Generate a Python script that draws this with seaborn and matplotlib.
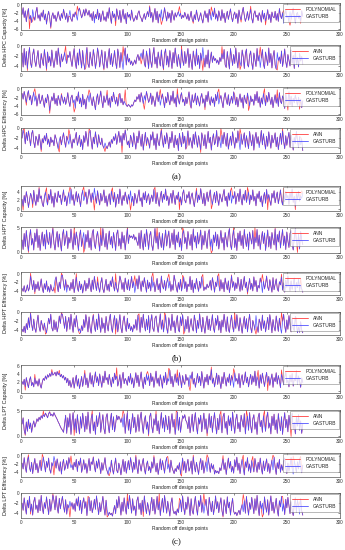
import numpy as np
import pandas as pd
import matplotlib
matplotlib.use("Agg")
import matplotlib.pyplot as plt
import seaborn as sns

# ---------------- data (read/estimated from the reference) ----------------
x_ticks = [0, 50, 100, 150, 200, 250, 300]
x_label = "Random off design points"
group_labels = ["(a)", "(b)", "(c)"]
y_labels = ["Delta HPC Capacity [%]", "Delta HPC Efficiency [%]",
            "Delta HPT Capacity [%]", "Delta HPT Efficiency [%]",
            "Delta LPT Capacity [%]", "Delta LPT Efficiency [%]"]
model_names = ["POLYNOMIAL", "ANN"]
truth_name = "GASTURB"

hpc_cap_poly_gt = [
-2.3,-0.6,-3.1,-1.4,-4.2,-2.0,-0.8,-3.5,-2.6,-4.4,-1.1,-2.9,-3.8,-1.7,-0.5,-3.3,-2.4,-4.0,-1.9,-3.0,
-1.2,-3.7,-2.2,-4.8,-2.7,-1.5,-3.2,-5.6,-2.8,-1.9,-3.4,-2.5,-4.1,-3.0,-1.6,-2.9,-3.9,-2.1,-3.3,-1.0,
-2.4,-3.6,-2.0,-4.3,-2.8,-1.3,-3.5,-4.1,-2.2,-3.0,-1.7,-2.6,-3.8,-1.4,-0.7,-1.9,-3.2,-2.4,-1.1,-2.7,
-0.9,-1.8,-2.5,-1.3,-3.0,-2.1,-3.9,-1.6,-4.5,-2.3,-3.4,-1.0,-3.7,-2.0,-4.2,-2.6,-1.4,-3.8,-2.9,-4.1,
-1.7,-3.3,-0.6,-2.8,-4.6,-1.5,-3.1,-2.2,-4.0,-0.9,-2.5,-3.6,-1.3,-4.4,-2.7,-1.0,-3.5,-2.1,-4.7,-1.8,
-3.0,-2.3,-3.8,-1.2,-2.9,-4.1,-3.4,-2.6,-3.7,-2.0,-1.4,-2.8,-3.3,-4.2,-3.0,-2.1,-3.6,-2.5,-1.6,-2.9,
-0.4,-3.2,-1.8,-4.3,-2.4,-0.8,-3.7,-1.5,-4.5,-2.2,-3.1,-1.1,-3.9,-2.7,-0.6,-2.4,-4.0,-1.7,-3.3,-2.0,
-4.4,-1.3,-2.6,-3.8,-1.9,-3.0,-2.3,-1.6,-2.8,-2.0,-3.4,-2.5,-3.1,-1.8,-2.7,-3.5,-2.2,-3.9,-2.9,-1.5,
-3.6,-4.2,-2.4,-3.7,-1.2,-2.8,-4.1,-3.0,-1.9,-3.4,-4.5,-2.6,-1.4,-3.2,-2.1,-4.3,-1.0,-2.7,-3.8,-1.6,
-2.9,-0.7,-3.5,-2.2,-4.0,-1.4,-2.6,-3.9,-1.1,-3.3,-2.0,-4.4,-2.8,-1.5,-3.6,-2.3,-0.9,-3.0,-4.2,-2.5,
-1.7,-3.4,-2.1,-4.6,-1.2,-2.9,-3.7,-1.8,-0.5,-2.6,-4.1,-3.1,-1.6,-3.8,-2.4,-1.0,-3.3,-4.5,-2.2,-1.4,
-3.0,-2.5,-3.9,-1.9,-2.7,-4.3,-1.3,-3.5,-2.0,-4.0,-2.8,-1.1,-3.6,-2.3,-4.4,-1.7,-2.9,-3.2,-1.5,-3.8,
-2.1,-4.1,-0.8,-2.6,-3.4,-1.9,-4.6,-2.4,-1.2,-3.1,-2.7,-4.2,-1.6,-3.5,-2.0,-0.7,-3.0,-4.5,-2.3,-1.8,
-3.3,-2.6,-4.0,-1.4,-2.8]
hpc_cap_poly_diff = {7: -6.0, 10: -3.9, 27: -5.9, 45: -2.9, 52: -0.2, 68: -3.6, 88: -5.2, 104: -3.2,
                     120: -0.1, 131: -4.9, 148: -0.3, 161: -4.6, 178: -0.4, 190: -2.0, 206: -4.3,
                     215: -0.2, 229: -5.0, 246: -1.3, 252: -5.1, 262: -4.6}

hpc_cap_ann_gt = [
-1.5,-4.3,-0.6,-3.9,-1.2,-4.6,-2.0,-0.4,-3.5,-4.4,-1.8,-0.7,-3.1,-4.2,-2.4,-1.0,-3.7,-4.5,-1.6,-2.9,
-4.0,-0.8,-2.6,-4.7,-1.3,-3.4,-2.2,-4.1,-0.9,-3.0,-4.4,-2.7,-1.1,-3.8,-0.5,-2.3,-4.3,-1.7,-3.2,-2.5,
-1.4,-2.8,-3.6,-1.9,-2.4,-1.2,-3.0,-4.2,-2.1,-0.6,-3.3,-4.6,-1.5,-3.9,-0.7,-2.6,-4.5,-1.0,-3.5,-4.8,
-2.0,-0.4,-3.7,-4.4,-1.3,-2.9,-4.1,-0.8,-2.2,-4.6,-3.1,-0.5,-1.8,-4.3,-2.5,-0.9,-3.6,-4.7,-1.2,-3.0,
-4.5,-2.3,-0.6,-3.8,-1.6,-4.2,-2.8,-1.0,-3.4,-4.6,-0.7,-2.1,-4.4,-1.4,-3.2,-4.8,-2.0,-0.5,-3.9,-1.7,
-3.3,-2.6,-3.8,-3.1,-4.0,-3.5,-2.9,-3.7,-2.4,-1.8,-3.0,-2.2,-1.5,-2.7,-0.8,-3.6,-4.3,-1.1,-2.5,-4.6,
-0.6,-3.2,-4.4,-1.9,-0.4,-3.7,-2.3,-4.5,-1.3,-2.8,-4.1,-0.9,-3.4,-4.7,-1.6,-0.7,-3.9,-2.1,-4.3,-1.0,
-2.7,-4.6,-1.4,-3.5,-0.5,-2.4,-4.2,-1.8,-3.1,-4.5,-0.8,-2.9,-4.0,-1.2,-3.6,-2.2,-0.6,-4.4,-1.7,-3.3,
-4.8,-1.1,-2.6,-4.1,-0.7,-3.8,-2.0,-4.6,-1.5,-3.0,-0.4,-2.5,-4.3,-1.9,-3.7,-0.9,-4.5,-2.8,-1.3,-3.4,
-2.1,-3.0,-2.6,-3.5,-2.9,-3.8,-2.4,-3.2,-1.6,-2.7,-0.8,-3.9,-4.4,-1.2,-3.1,-4.7,-0.6,-2.3,-4.0,-1.8,
-3.6,-0.5,-2.9,-4.5,-1.4,-3.3,-4.1,-0.9,-2.2,-4.6,-1.7,-0.7,-3.8,-4.3,-2.0,-1.1,-3.5,-4.8,-1.5,-2.8,
-4.2,-0.6,-3.1,-1.9,-4.4,-2.5,-0.8,-3.7,-4.6,-1.3,-2.6,-4.0,-0.5,-3.4,-1.6,-4.5,-2.2,-1.0,-3.9,-4.7,
-1.4,-3.0,-2.3,-3.6,-1.1,-4.2,-2.7,-0.7,-3.3,-4.4,-1.8,-2.9,-4.1,-0.9,-3.5,-2.0,-4.6,-1.2,-3.8,-2.4,
-4.3,-1.6,-3.1,-2.2,-3.7]
hpc_cap_ann_diff = {5: -5.0, 23: -5.0, 41: -0.1, 60: -4.4, 77: -4.9, 95: -0.2, 112: -3.7, 133: -4.9,
                    150: -0.1, 170: -5.0, 188: -0.2, 205: -4.8, 224: -0.3, 240: -4.9, 258: -3.6}

hpc_eff_poly_gt = [
-1.0,-2.4,-0.5,-1.8,-3.2,-1.3,-0.3,-2.6,-1.5,-3.8,-2.0,-0.7,-2.9,-1.6,-4.1,-2.3,-1.1,-3.5,-2.7,-1.4,
-3.0,-4.4,-2.1,-3.3,-1.2,-2.5,-5.2,-3.1,-1.8,-2.8,-0.9,-3.6,-2.2,-4.0,-1.5,-2.7,-3.9,-1.3,-2.4,-3.4,
-1.9,-3.7,-2.6,-0.8,-3.0,-4.2,-2.0,-1.4,-3.3,-2.5,-4.6,-1.7,-2.9,-0.6,-3.5,-2.1,-4.3,-1.2,-3.8,-2.4,
-4.8,-2.2,-1.5,-3.1,-0.9,-2.6,-4.0,-1.8,-3.4,-5.0,-2.3,-1.1,-3.7,-2.0,-0.4,-2.8,-4.5,-1.6,-3.2,-2.5,
-1.3,-3.9,-2.1,-4.4,-1.7,-3.0,-0.7,-2.4,-3.6,-1.9,-4.1,-2.7,-1.0,-3.3,-2.2,-3.8,-2.9,-3.5,-3.9,-4.2,
-3.7,-4.0,-4.4,-3.8,-4.1,-3.3,-2.6,-3.0,-1.8,-2.4,-1.2,-3.1,-0.8,-2.0,-3.5,-1.5,-2.7,-0.5,-1.9,-3.2,
-2.5,-0.9,-3.7,-1.6,-2.8,-4.2,-2.1,-0.6,-3.0,-1.4,-3.9,-2.3,-1.1,-2.7,-4.5,-1.8,-3.3,-0.7,-2.6,-3.8,
-1.5,-2.9,-0.4,-3.4,-2.0,-4.3,-1.2,-2.5,-3.6,-1.7,-0.8,-3.1,-2.4,-4.0,-1.9,-3.5,-2.2,-0.6,-2.8,-4.6,
-1.3,-3.2,-2.6,-0.9,-3.8,-1.6,-2.9,-4.1,-2.0,-1.0,-3.4,-2.3,-4.4,-1.4,-3.0,-0.5,-2.7,-3.9,-1.8,-3.3,
-2.1,-4.2,-1.2,-2.8,-0.7,-3.6,-2.4,-1.5,-3.1,-4.5,-2.0,-0.8,-2.6,-3.7,-1.3,-4.0,-2.9,-1.7,-3.4,-0.6,
-2.3,-3.8,-1.9,-4.3,-2.5,-1.1,-3.2,-2.0,-4.6,-1.4,-2.7,-3.5,-0.9,-2.2,-4.1,-1.6,-3.0,-2.4,-3.9,-1.2,
-2.8,-0.5,-3.3,-1.8,-4.4,-2.1,-3.6,-1.0,-2.6,-4.0,-1.5,-3.1,-0.7,-2.4,-3.7,-1.9,-4.5,-2.7,-1.3,-3.4,
-2.0,-4.2,-0.8,-2.9,-3.5,-1.6,-2.3,-4.7,-1.1,-3.0,-2.5,-0.6,-3.8,-1.7,-4.1,-2.2,-3.3,-1.4,-2.6,-3.9,
-1.9,-3.2,-2.4,-4.5,-2.8]
hpc_eff_poly_diff = {4: -3.9, 12: 0.2, 26: -5.9, 37: -1.0, 49: -5.6, 63: -0.1, 80: -0.2, 91: -1.2,
                     97: -0.1, 115: -4.9, 130: 0.0, 146: 0.2, 158: -3.8, 172: -5.0, 185: 0.1,
                     200: -1.3, 213: -5.2, 228: 0.2, 240: -0.1, 250: -5.1, 261: -4.9}

hpc_eff_ann_gt = [
-2.0,-0.3,-1.4,-3.2,-0.8,-2.5,-0.5,-1.9,-3.6,-1.1,-0.4,-2.8,-4.0,-1.6,-2.3,-3.5,-1.2,-2.7,-4.4,-2.1,
-3.0,-1.5,-2.6,-1.0,-3.3,-2.2,-3.8,-1.8,-2.9,-2.4,-3.6,-1.3,-2.1,-3.1,-4.2,-2.5,-1.7,-3.4,-2.0,-0.9,
-2.7,-3.9,-1.6,-2.4,-3.3,-1.2,-2.8,-4.1,-2.2,-3.0,-1.9,-0.8,-3.5,-2.6,-1.4,-3.8,-2.3,-4.4,-1.5,-2.9,
-0.6,-2.1,-3.7,-1.0,-0.4,-2.6,-4.3,-1.8,-3.2,-0.7,-2.4,-3.9,-1.3,-2.8,-3.4,-2.0,-3.6,-4.1,-3.0,-3.7,
-4.2,-3.5,-2.8,-3.9,-2.3,-3.1,-1.7,-2.5,-1.1,-3.3,-2.0,-0.6,-2.9,-1.5,-3.6,-1.0,-2.4,-0.3,-1.8,-3.4,
-2.6,-4.0,-1.4,-2.2,-3.8,-0.9,-2.7,-4.3,-1.6,-3.0,-0.5,-2.1,-3.7,-1.2,-4.5,-2.5,-0.8,-3.3,-1.9,-2.8,
-4.1,-1.3,-2.4,-0.7,-3.5,-2.0,-4.4,-1.1,-2.9,-3.6,-1.7,-0.4,-2.6,-3.9,-1.5,-3.2,-0.9,-2.3,-4.2,-1.8,
-3.0,-0.6,-2.7,-4.0,-1.4,-3.4,-2.1,-4.6,-1.0,-2.5,-3.8,-0.8,-3.1,-1.6,-4.3,-2.2,-0.5,-3.5,-1.9,-2.8,
-4.1,-1.2,-3.3,-0.7,-2.4,-3.9,-1.5,-2.9,-4.4,-0.9,-2.0,-3.6,-1.3,-4.2,-2.6,-0.6,-3.0,-1.8,-4.5,-2.3,
-1.1,-3.4,-2.7,-0.4,-3.8,-1.7,-2.5,-4.0,-1.4,-3.2,-0.8,-2.2,-3.7,-1.0,-4.3,-2.8,-1.6,-3.5,-0.7,-2.4,
-4.1,-1.9,-3.0,-0.5,-2.6,-4.4,-1.2,-3.3,-2.1,-0.9,-3.9,-1.5,-2.8,-4.2,-0.6,-2.3,-3.6,-1.3,-4.5,-2.0,
-0.8,-3.1,-1.7,-4.0,-2.5,-0.4,-3.4,-1.1,-2.9,-4.3,-1.6,-3.7,-0.7,-2.4,-4.1,-1.4,-3.0,-2.2,-0.9,-3.8,
-1.8,-4.4,-2.6,-1.0,-3.3,-0.5,-2.7,-4.2,-1.5,-3.5,-2.0,-0.8,-3.9,-1.3,-2.8,-4.5,-1.9,-3.1,-0.6,-2.5,
-4.0,-1.7,-3.4,-2.3,-4.6]
hpc_eff_ann_diff = {2: 0.0, 18: -4.8, 35: -4.9, 44: -0.2, 63: -0.1, 78: -4.8, 94: -5.0, 117: -3.6,
                    131: 0.0, 155: -3.8, 168: -5.0, 187: 0.0, 205: -0.1, 223: -3.4, 245: 0.0, 262: -1.8}

hpt_cap_poly_gt = [
2.2,0.6,3.1,1.4,4.0,2.5,0.3,1.9,3.6,2.8,1.1,4.3,2.0,0.8,3.3,1.6,4.7,2.4,3.0,1.2,
0.5,2.7,3.9,1.8,0.9,3.4,2.1,4.5,1.3,2.9,0.4,3.7,2.3,1.5,4.1,2.6,3.2,1.0,2.8,4.4,
1.7,3.0,0.7,2.5,3.8,1.2,4.6,2.0,3.3,0.8,2.4,4.0,1.6,3.5,2.2,0.5,3.1,4.3,1.9,2.7,
3.9,1.1,2.6,4.5,3.2,1.5,3.7,2.1,4.8,2.9,1.3,4.2,2.4,0.9,3.6,1.8,2.8,4.4,1.4,3.0,
0.6,2.3,3.5,1.0,4.1,2.7,1.6,3.8,0.4,2.2,3.4,1.2,4.6,2.5,0.8,3.1,1.9,3.9,2.6,1.1,
3.3,2.0,4.2,1.5,2.9,0.7,3.6,2.4,1.3,3.0,4.4,1.8,2.6,0.5,3.7,2.1,4.0,1.4,2.8,3.5,
1.0,2.3,3.2,1.7,4.5,2.6,1.2,3.8,2.0,0.6,2.9,4.1,1.5,3.4,2.2,4.6,1.9,3.0,0.8,2.5,
3.6,1.3,4.3,2.7,1.0,3.1,2.2,3.9,1.6,2.8,0.9,3.5,4.4,2.0,1.4,3.3,2.5,4.0,1.1,2.9,
3.7,1.8,0.5,2.6,4.2,1.5,3.2,2.1,4.7,2.8,1.2,3.6,0.7,2.4,3.9,1.7,3.0,4.4,2.3,1.0,
2.7,3.8,1.4,4.1,2.2,0.8,3.5,2.5,1.6,3.3,4.5,1.9,2.9,0.6,3.7,2.0,4.2,1.3,3.1,2.4,
4.0,1.1,2.8,3.6,1.7,4.6,2.3,0.9,3.4,2.0,4.3,1.5,2.6,3.9,1.0,3.2,2.1,4.4,1.8,2.9,
0.7,3.5,2.4,4.1,1.6,3.0,0.5,2.7,3.8,1.3,4.5,2.2,3.3,1.9,0.8,3.6,2.5,4.2,1.4,2.8,
3.9,1.2,2.6,4.4,2.0,0.9,3.4,1.7,4.0,2.5,3.1,1.0,3.7,2.3,4.6,1.5,2.9,0.6,3.5,2.1,
4.1,1.8,3.0,2.4,3.6]
hpt_cap_poly_diff = {1: -0.3, 10: 0.3, 16: 5.0, 23: 4.9, 45: 5.0, 58: 5.1, 68: -0.3, 85: 4.9,
                     102: -0.3, 125: 5.0, 148: -0.2, 164: 4.8, 178: 0.0, 197: 4.9, 212: 5.0,
                     231: -0.2, 246: 4.8, 257: -0.2, 263: 4.2}

hpt_cap_ann_gt = [
2.5,0.6,3.8,1.2,4.4,2.0,0.3,3.1,4.6,1.5,2.8,0.5,3.9,2.2,4.7,1.0,3.4,0.4,2.6,4.1,
1.3,3.6,0.7,4.5,2.3,1.6,4.0,0.9,3.2,4.8,1.8,0.5,2.9,4.2,1.1,3.7,2.0,0.3,3.5,4.6,
1.4,2.7,4.3,0.8,3.0,1.9,4.7,2.4,0.6,3.8,1.5,4.1,2.6,0.4,3.3,4.5,1.2,2.8,4.0,0.7,
3.6,2.1,4.4,1.0,2.9,0.5,3.9,4.6,1.7,0.8,3.1,4.2,2.3,0.3,3.5,1.4,4.8,2.7,1.1,3.8,
0.6,2.4,4.3,1.6,3.2,0.9,4.0,2.5,0.4,3.7,4.5,1.3,2.8,0.7,4.1,1.9,3.4,0.5,2.6,4.7,
1.8,3.5,3.0,3.3,2.8,3.6,2.5,3.1,2.2,1.4,3.9,0.8,4.4,2.0,0.5,3.7,1.2,4.6,2.9,0.6,
3.4,4.2,1.5,0.4,2.7,4.8,1.9,3.3,0.7,4.0,2.4,1.0,3.8,0.5,2.6,4.5,1.3,3.1,4.3,0.9,
2.2,3.9,1.6,4.6,0.6,3.5,2.0,4.1,1.1,2.8,0.4,3.7,4.4,1.8,3.0,0.7,4.2,2.5,1.4,3.6,
0.5,4.7,2.1,3.3,0.9,4.0,1.7,2.9,4.5,0.6,3.4,1.5,4.3,2.3,0.8,3.8,4.6,1.2,2.7,0.4,
3.5,2.0,4.1,1.3,3.6,0.7,2.4,4.4,1.9,3.0,0.5,4.0,2.6,1.1,3.7,4.8,1.6,0.6,3.2,4.5,
1.0,2.8,0.4,3.9,2.2,4.3,1.4,3.4,0.8,4.6,2.5,1.2,3.7,0.5,4.1,2.9,1.7,4.4,0.7,3.1,
2.0,4.6,1.3,3.5,0.6,2.7,4.2,1.8,3.9,0.4,2.4,4.5,1.1,3.2,0.8,4.0,2.6,1.5,4.7,0.5,
3.6,2.1,4.3,0.9,2.9,4.6,1.4,3.3,0.6,4.1,2.3,1.0,3.8,4.4,1.7,0.5,3.0,4.8,2.2,1.2,
3.7,0.7,4.2,2.5,1.6]
hpt_cap_ann_diff = {6: 0.0, 29: 5.0, 49: 4.9, 58: 0.0, 74: 5.0, 99: 4.9, 127: 5.0, 151: 5.0,
                    178: -0.1, 199: 5.0, 219: 5.0, 238: 4.9, 259: 0.0}

hpt_eff_poly_gt = [
-3.5,-4.2,-2.8,-4.4,-3.9,-2.6,-4.1,-3.3,-0.4,-2.1,-3.8,-1.5,-4.3,-2.4,-3.6,-1.8,-4.0,-2.9,-1.1,-3.4,
-4.5,-2.3,-3.7,-1.6,-4.2,-3.0,-4.4,-2.5,-3.8,-4.1,-3.2,-1.4,-0.6,-2.7,-4.3,-1.9,-3.5,-0.3,-0.2,-2.2,
-3.9,-1.3,-4.4,-2.6,-3.1,-4.0,-2.0,-3.6,-1.2,-4.5,-2.8,-0.7,-3.3,-4.2,-1.7,-3.8,-2.4,-4.6,-3.0,-1.5,
-4.1,-2.2,-3.5,-0.9,-2.9,-4.3,-1.4,-3.7,-0.5,-2.5,-4.0,-1.8,-3.2,-4.4,-2.1,-0.8,-3.6,-4.5,-2.7,-1.2,
-3.9,-2.4,-4.2,-1.6,-3.0,-0.6,-2.8,-4.1,-1.9,-3.4,-4.4,-2.3,-0.4,-1.5,-3.7,-2.0,-4.3,-0.9,-2.6,-3.8,
-1.3,-4.0,-2.5,-0.5,-3.3,-1.8,-4.5,-2.9,-1.1,-3.6,-0.3,-2.2,-4.2,-1.6,-3.1,-0.8,-2.7,-4.4,-1.4,-3.5,
-2.0,-4.1,-0.6,-3.2,-1.9,-4.3,-2.6,-1.0,-3.8,-2.3,-4.5,-0.4,-2.8,-3.6,-1.5,-4.0,-2.1,-0.9,-3.4,-1.7,
-4.2,-2.5,-3.9,-0.2,-1.6,-3.3,-4.4,-2.0,-3.7,-1.2,-4.1,-2.8,-0.7,-3.5,-1.8,-4.3,-2.4,-3.0,-0.5,-3.8,
-1.4,-4.5,-2.2,-3.6,-1.0,-2.9,-4.2,-1.7,-3.4,-0.6,-2.6,-4.0,-3.1,-3.7,-2.4,-3.3,-2.8,-1.5,-3.9,-0.8,
-2.3,-4.4,-1.9,-3.0,-0.4,-2.7,-4.1,-1.3,-3.6,-2.0,-4.3,-0.9,-2.5,-3.8,-1.6,-4.5,-2.9,-0.3,-3.2,-1.8,
-4.0,-2.1,-3.5,-0.7,-2.6,-4.2,-1.2,-3.9,-2.4,-0.5,-3.3,-1.9,-4.4,-2.8,-1.0,-3.7,-2.2,-4.1,-0.6,-3.0,
-1.5,-4.3,-2.7,-3.4,-0.9,-2.0,-4.5,-1.7,-3.6,-2.3,-0.4,-3.1,-4.0,-1.3,-2.9,-4.4,-0.8,-3.8,-2.5,-1.1,
-3.5,-4.2,-1.8,-2.6,-0.6,-3.9,-2.1,-4.4,-1.4,-3.2,-0.3,-2.8,-4.1,-1.6,-3.7,-2.4,-0.9,-4.3,-2.0,-3.3,
-1.2,-4.0,-2.7,-3.6,-4.4]
hpt_eff_poly_diff = {8: 0.3, 12: -4.8, 31: -4.6, 37: 0.3, 42: -3.2, 51: 0.2, 71: -0.6, 88: 0.2,
                     106: -0.3, 123: 0.4, 138: 0.1, 151: -0.2, 170: 0.0, 185: 0.2, 197: -0.1,
                     212: -4.9, 226: 0.0, 244: 0.1, 250: -0.5, 262: -0.9}

hpt_eff_ann_gt = [
-3.8,-4.4,-3.1,-4.6,-2.5,-3.9,-1.2,-3.4,-0.2,-2.7,-4.1,-1.5,-3.6,-4.5,-2.2,-0.6,-3.3,-4.3,-1.8,-2.9,
-4.0,-2.4,-3.7,-4.6,-3.0,-1.3,-2.6,-0.4,-3.5,-4.2,-1.7,-3.9,-2.1,-4.4,-3.2,-0.8,-2.5,-0.3,-0.5,-1.9,
-3.6,-0.9,-4.3,-2.3,-1.1,-3.8,-0.4,-2.8,-4.5,-1.4,-3.3,-0.7,-2.6,-4.2,-3.7,-4.6,-3.0,-4.1,-1.6,-3.4,
-0.5,-2.2,-4.4,-1.0,-3.5,-4.7,-2.0,-0.6,-3.1,-4.3,-1.5,-3.9,-0.3,-2.7,-4.5,-1.2,-3.6,-2.4,-4.6,-0.9,
-2.9,-4.2,-1.7,-0.4,-3.3,-4.5,-2.1,-0.7,-3.8,-1.4,-4.4,-2.6,-0.5,-3.5,-4.6,-1.9,-0.8,-3.0,-4.3,-1.3,
-3.7,-2.5,-4.1,-3.2,-4.4,-2.8,-3.6,-1.6,-4.0,-0.6,-2.3,-4.5,-1.1,-3.4,-0.4,-2.7,-4.2,-1.5,-3.9,-0.7,
-4.6,-2.0,-0.5,-3.6,-4.3,-1.3,-0.8,-3.1,-4.5,-2.4,-0.3,-3.8,-1.7,-4.4,-2.9,-0.6,-3.5,-4.7,-1.2,-2.6,
-4.1,-0.4,-3.3,-1.9,-4.6,-2.2,-0.7,-3.9,-4.4,-1.0,-3.0,-0.5,-2.5,-4.3,-1.6,-3.7,-0.9,-4.5,-2.8,-1.4,
-3.4,-4.2,-0.6,-2.1,-4.6,-1.8,-3.6,-0.3,-2.7,-4.4,-1.1,-3.2,-4.7,-2.3,-0.8,-3.9,-1.5,-4.1,-2.6,-0.5,
-3.5,-4.5,-1.3,-2.9,-0.7,-4.0,-2.0,-4.6,-1.7,-3.3,-0.4,-2.4,-4.3,-1.0,-3.8,-4.5,-2.2,-0.6,-3.1,-4.4,
-1.6,-3.6,-0.5,-2.8,-4.2,-1.2,-3.0,-4.7,-2.5,-0.9,-3.7,-1.4,-4.4,-2.1,-0.4,-3.4,-4.6,-1.8,-2.7,-4.0,
-0.7,-3.2,-4.5,-1.5,-2.4,-4.1,-0.6,-3.6,-1.9,-4.4,-2.8,-1.1,-3.9,-0.5,-2.3,-4.6,-1.6,-3.3,-4.2,-0.8,
-2.6,-4.3,-1.3,-3.5,-4.7,-2.0,-0.4,-3.0,-4.5,-1.7,-3.8,-0.7,-2.5,-4.4,-1.2,-3.6,-4.1,-0.9,-2.9,-4.6,
-3.3,-4.5,-2.1,-4.0,-4.6]
hpt_eff_ann_diff = {8: 0.0, 22: -4.9, 37: 0.0, 54: -4.8, 67: -0.4, 88: -4.9, 110: -0.3, 134: 0.0,
                    152: -4.9, 179: -0.5, 200: 0.0, 220: -4.9, 244: 0.0, 258: -1.3}

lpt_cap_poly_gt = [
2.2,1.5,2.8,1.0,3.2,1.8,0.7,2.6,3.4,1.2,2.0,0.9,3.1,1.6,2.4,1.1,2.9,1.4,0.6,2.1,
3.0,2.5,3.6,2.8,3.9,3.3,4.2,3.5,4.6,3.8,4.1,4.5,3.6,4.7,3.9,4.3,3.4,4.0,3.1,3.7,
2.6,3.3,1.9,3.0,1.2,2.5,0.8,1.7,3.2,0.6,2.4,3.8,1.1,2.9,0.5,1.8,3.5,1.0,2.7,4.2,
1.4,3.1,0.7,2.3,4.4,1.6,3.7,0.9,2.8,4.6,2.0,3.4,1.2,4.1,2.5,0.8,3.6,1.9,4.8,2.6,
3.2,1.5,4.0,2.3,0.9,3.3,1.8,4.3,2.7,3.6,1.1,2.2,3.9,0.6,2.9,4.5,1.7,3.0,2.4,1.3,
3.5,2.0,4.2,1.6,3.1,0.7,2.6,4.4,1.9,3.8,1.0,2.8,4.6,2.1,0.5,3.3,1.5,4.0,2.5,3.7,
1.2,4.3,2.2,3.4,0.8,2.7,4.8,1.8,3.1,1.1,3.9,2.4,0.6,3.6,2.0,4.5,1.4,3.0,2.3,5.0,
1.7,3.5,0.9,2.6,4.1,2.0,3.3,1.3,4.4,2.8,0.7,3.7,2.2,1.5,4.0,2.5,3.2,1.0,3.8,2.9,
4.6,1.6,3.0,0.8,2.4,4.2,1.9,3.5,1.2,4.7,2.7,0.6,3.3,2.1,4.0,1.4,3.6,2.6,5.2,1.8,
3.1,0.9,2.5,4.3,1.5,3.8,2.2,0.5,3.4,1.7,4.5,2.8,1.1,3.2,2.0,4.1,1.3,3.7,2.6,0.8,
4.4,2.3,3.0,1.6,4.2,0.7,2.9,3.9,1.4,2.5,4.6,1.9,3.3,0.9,2.7,4.0,1.5,3.6,2.1,4.8,
1.2,3.4,2.4,0.6,3.9,1.8,4.3,2.6,1.0,3.1,4.5,2.0,3.5,1.3,2.8,4.1,0.8,3.2,2.2,4.4,
1.6,3.7,2.5,0.7,4.0,2.9,1.4,3.3,4.6,1.9,2.6,0.9,3.8,2.1,4.2,1.1,3.0,2.4,4.5,1.5,
3.6,2.3,0.8,3.1,2.0]
lpt_cap_poly_diff = {3: 0.1, 12: 4.0, 28: 5.2, 35: 5.0, 59: 5.0, 89: 5.6, 118: 4.7, 138: 5.5,
                     146: 5.1, 158: 0.0, 178: 5.8, 199: 5.4, 222: 5.0, 231: 0.0, 244: 5.1, 258: 5.0}

lpt_cap_ann_gt = [
2.4,3.6,1.2,0.4,2.8,1.0,3.3,1.5,2.6,0.8,2.2,3.0,1.8,2.5,3.4,2.9,3.7,3.2,4.0,3.5,
4.2,3.8,4.5,4.1,3.6,4.4,4.7,4.0,4.3,3.9,4.6,4.1,3.7,3.3,2.8,2.4,1.9,1.5,1.2,0.8,
2.5,4.1,0.6,3.6,1.8,4.4,0.4,2.9,4.6,1.3,3.4,0.7,4.2,2.1,0.5,3.8,1.6,4.5,2.7,0.9,
3.9,1.4,4.7,2.3,0.6,3.5,4.3,1.1,2.8,0.4,4.0,1.9,3.3,4.6,0.8,2.6,4.2,1.5,0.5,3.7,
4.4,2.2,0.7,3.0,4.5,1.3,3.8,0.9,2.4,4.1,3.2,3.9,3.4,2.7,3.6,1.8,4.3,0.6,2.9,4.6,
1.2,3.3,0.5,2.5,4.4,1.7,3.7,0.8,2.0,4.2,1.0,3.5,4.7,2.3,0.6,3.1,4.0,1.4,2.8,0.4,
3.8,4.5,1.9,0.7,3.4,2.2,4.3,1.1,3.0,0.5,2.6,4.6,1.6,3.6,0.9,4.1,2.4,1.3,3.9,0.6,
2.9,4.4,1.8,3.3,0.4,2.1,4.7,1.2,3.7,0.8,2.5,4.0,3.5,4.2,3.1,2.7,1.5,3.8,0.7,2.3,
4.3,1.0,3.2,4.6,1.9,0.5,3.6,2.4,4.1,0.9,2.8,4.5,1.4,3.4,0.6,2.0,4.4,1.7,3.9,0.8,
3.0,4.6,2.2,0.5,3.5,1.3,4.2,2.6,0.7,3.8,4.5,1.6,2.9,0.4,4.0,2.1,3.6,1.1,4.7,2.4,
0.6,3.3,4.3,1.5,2.7,0.9,4.1,3.0,1.8,4.4,0.5,2.5,3.9,1.2,4.6,2.0,0.7,3.4,4.2,1.4,
2.8,0.4,3.7,4.5,1.9,3.1,0.8,4.0,2.3,1.0,3.6,4.7,1.6,2.6,0.5,3.9,2.1,4.3,1.3,3.2,
0.6,4.4,2.5,1.1,3.8,0.4,2.9,4.6,1.7,3.3,0.9,4.1,2.2,3.5,4.5,1.4,2.7,0.5,3.7,2.0,
4.2,1.2,3.0,0.6,2.4]
lpt_cap_ann_diff = {3: 0.2, 20: 4.9, 26: 4.8, 49: 0.2, 66: 5.0, 95: 5.0, 119: 0.1, 126: 4.9,
                    145: 4.9, 174: 0.1, 187: 4.9, 211: 5.0, 228: 5.0, 253: 0.0}

lpt_eff_poly_gt = [
-1.8,-3.2,-0.5,-2.6,-4.0,-1.2,-0.3,-2.9,-3.8,-1.6,-4.3,-2.2,-0.7,-3.4,-1.9,-4.1,-2.7,-1.1,-3.6,-2.3,
-0.4,-2.0,-3.9,-1.4,-2.8,-0.6,-3.3,-4.2,-1.7,-2.5,-0.2,-1.3,-3.0,-0.8,-2.4,-3.7,-1.5,-4.4,-2.1,-0.9,
-3.5,-2.6,-1.2,-3.1,-0.5,-1.8,-2.9,-2.2,-3.4,-1.6,-2.7,-0.9,-3.8,-1.4,-2.3,-0.6,-4.0,-2.8,-1.0,-3.3,
-1.9,-4.2,-2.5,-0.7,-3.6,-1.5,-2.1,-0.4,-2.6,-3.9,-1.3,-3.0,-0.8,-2.4,-4.3,-1.7,-3.5,-2.0,-0.5,-2.9,
-3.7,-4.5,-2.7,-3.9,-1.1,-3.2,-4.4,-2.3,-0.6,-3.5,-4.1,-1.8,-3.0,-4.6,-2.5,-0.9,-3.8,-1.4,-4.2,-2.6,
-1.2,-3.4,-0.5,-2.1,-4.0,-1.6,-3.3,-0.3,-2.8,-4.3,-1.0,-2.4,-3.7,-1.9,-0.7,-3.1,-4.4,-2.2,-1.3,-3.6,
-2.6,-4.1,-1.5,-3.0,-0.4,-2.3,-3.9,-1.8,-4.5,-2.9,-0.8,-3.4,-1.2,-2.5,-4.2,-1.6,-0.5,-3.2,-2.0,-4.0,
-1.1,-2.8,-3.6,-4.3,-3.1,-3.8,-2.4,-3.3,-1.7,-4.4,-2.6,-0.6,-3.5,-1.4,-4.1,-2.2,-0.9,-3.7,-2.9,-1.3,
-4.4,-0.3,-2.5,-3.9,-1.6,-3.0,-4.5,-2.0,-0.7,-3.4,-1.2,-4.2,-2.7,-1.5,-3.8,-0.5,-2.3,-4.0,-1.9,-3.2,
-2.2,-4.4,-3.5,-4.1,-3.7,-4.3,-2.9,-3.6,-2.1,-0.8,-3.3,-1.7,-4.5,-2.4,-0.6,-3.0,-1.4,-3.9,-2.6,-4.2,
-1.0,-2.7,-0.4,-3.5,-1.8,-4.3,-2.3,-0.9,-3.1,-4.6,-1.5,-2.8,-0.5,-3.7,-2.0,-4.1,-1.2,-2.6,-3.9,-0.7,
-2.4,-4.0,-1.6,-3.3,-0.6,-2.9,-4.4,-1.3,-3.6,-2.1,-0.8,-3.8,-1.9,-4.2,-2.5,-1.1,-3.4,-0.4,-2.7,-4.5,
-1.7,-3.1,-0.9,-4.0,-2.2,-3.5,-1.4,-0.6,-2.8,-4.3,-1.8,-3.7,-2.4,-0.5,-3.0,-4.4,-1.2,-2.6,-3.9,-1.5,
-3.2,-0.8,-2.9,-4.1,-2.3]
lpt_eff_poly_diff = {6: 0.2, 19: 0.3, 30: -4.6, 46: -0.1, 67: -0.3, 82: -4.8, 107: 0.1, 124: 0.0,
                     137: -0.2, 150: -4.9, 161: 0.1, 174: 0.2, 189: 0.0, 208: 0.1, 217: -0.2,
                     236: 0.1, 255: -0.1, 262: -0.2}

lpt_eff_ann_gt = [
-2.0,-3.5,-0.9,-2.7,-4.3,-1.4,-3.0,-0.6,-3.8,-2.2,-4.5,-1.7,-0.8,-3.3,-2.4,-4.0,-1.3,-3.6,-0.4,-2.9,
-4.2,-1.9,-3.1,-0.7,-2.5,-4.4,-1.2,-3.7,-2.1,-0.3,-1.5,-3.4,-0.5,-2.8,-4.1,-1.0,-3.2,-1.8,-0.6,-2.6,
-3.9,-1.3,-4.3,-2.3,-3.0,-1.6,-2.7,-1.9,-3.3,-2.1,-3.7,-1.1,-2.6,-0.7,-3.5,-1.4,-4.2,-2.0,-0.9,-3.1,
-1.7,-4.6,-2.4,-0.8,-3.6,-1.5,-4.0,-2.9,-1.2,-3.3,-0.5,-2.5,-4.4,-1.9,-3.8,-2.2,-0.6,-3.0,-4.5,-1.4,
-3.4,-4.6,-3.9,-4.4,-4.1,-4.7,-3.6,-2.5,-4.2,-1.3,-3.0,-0.6,-2.4,-4.5,-1.8,-3.7,-0.9,-2.8,-4.3,-1.6,
-3.2,-0.4,-2.1,-4.1,-1.1,-3.5,-2.6,-4.6,-1.5,-0.7,-3.3,-2.0,-4.4,-1.4,-3.8,-0.5,-2.7,-4.2,-1.9,-3.0,
-4.5,-2.3,-0.8,-3.6,-1.2,-4.3,-2.8,-0.6,-3.4,-1.7,-4.6,-2.5,-1.0,-3.9,-0.4,-2.2,-4.1,-1.6,-3.1,-4.7,
-2.0,-0.9,-3.5,-4.2,-3.7,-4.5,-3.2,-4.0,-2.6,-1.4,-3.8,-0.5,-2.9,-4.4,-1.8,-3.3,-0.7,-2.4,-4.6,-1.1,
-3.6,-4.3,-2.1,-0.6,-3.0,-4.5,-1.5,-2.7,-0.4,-3.9,-1.9,-4.1,-2.5,-1.2,-3.4,-4.6,-0.8,-2.3,-3.8,-1.6,
-4.4,-2.9,-0.5,-3.2,-1.7,-4.0,-2.2,-0.9,-3.6,-4.7,-1.3,-2.6,-4.2,-0.7,-3.0,-1.8,-4.5,-2.4,-1.0,-3.7,
-4.3,-3.9,-4.6,-4.0,-3.5,-4.4,-3.1,-2.3,-3.8,-1.5,-4.1,-0.6,-2.8,-4.5,-1.9,-3.3,-0.8,-2.5,-4.2,-1.1,
-3.5,-0.4,-2.9,-4.6,-1.6,-3.2,-2.0,-4.3,-0.7,-2.6,-3.9,-1.3,-4.5,-2.2,-0.5,-3.6,-1.8,-4.1,-2.7,-1.0,
-3.4,-4.7,-1.5,-2.8,-0.6,-3.7,-2.1,-4.4,-1.2,-3.0,-0.8,-2.5,-4.2,-1.7,-3.5,-4.6,-2.3,-0.9,-3.9,-1.4,
-2.6,-4.3,-1.1,-3.6,-4.5]
lpt_eff_ann_diff = {8: -4.3, 29: 0.0, 45: -4.9, 62: -0.6, 80: -4.9, 99: -0.1, 114: -4.8, 129: 0.0,
                    148: -1.0, 171: 0.0, 189: -4.9, 208: -0.2, 226: -4.9, 245: -0.6, 261: -2.0}

# ---------------- layout (pixels) ----------------
W, H = 345, 550
ax_left, ax_right = 21, 340
ax_rows = [(3, 30), (45, 71), (87, 115), (128, 153),
           (186, 211), (227, 253), (272, 295), (312, 335),
           (365, 393), (410, 437), (453, 477), (493, 518)]
group_label_y = [177, 358, 542]

panels = [
    (hpc_cap_poly_gt, hpc_cap_poly_diff, 0, (-6.3, 0.6), [-6, -4, -2, 0]),
    (hpc_cap_ann_gt, hpc_cap_ann_diff, 1, (-5.1, 0.1), [-4, -2, 0]),
    (hpc_eff_poly_gt, hpc_eff_poly_diff, 0, (-6.3, 0.6), [-6, -4, -2, 0]),
    (hpc_eff_ann_gt, hpc_eff_ann_diff, 1, (-5.1, 0.1), [-4, -2, 0]),
    (hpt_cap_poly_gt, hpt_cap_poly_diff, 0, (-0.5, 5.3), [0, 2, 4]),
    (hpt_cap_ann_gt, hpt_cap_ann_diff, 1, (-0.1, 5.1), [0, 5]),
    (hpt_eff_poly_gt, hpt_eff_poly_diff, 0, (-5.1, 0.6), [-4, -2, 0]),
    (hpt_eff_ann_gt, hpt_eff_ann_diff, 1, (-5.1, 0.1), [-4, -2, 0]),
    (lpt_cap_poly_gt, lpt_cap_poly_diff, 0, (-0.6, 6.3), [0, 2, 4, 6]),
    (lpt_cap_ann_gt, lpt_cap_ann_diff, 1, (-0.1, 5.1), [0, 5]),
    (lpt_eff_poly_gt, lpt_eff_poly_diff, 0, (-5.1, 0.6), [-4, -2, 0]),
    (lpt_eff_ann_gt, lpt_eff_ann_diff, 1, (-5.1, 0.1), [-4, -2, 0]),
]

sns.set_style("white")
plt.rcParams['font.family'] = ['Liberation Sans', 'DejaVu Sans']
plt.rcParams['axes.linewidth'] = 0.5

RED = "#ff3333"
BLUE = "#4848ff"
tick_fs = 3.4

fig = plt.figure(figsize=(W / 100, H / 100), dpi=100)
fig.patch.set_facecolor("white")

for i, (gt, diff, mi, ylim, yt) in enumerate(panels):
    top, bot = ax_rows[i]
    ax = fig.add_axes([ax_left / W, 1 - bot / H, (ax_right - ax_left) / W, (bot - top) / H])
    pts = np.arange(1, len(gt) + 1)
    pred = list(gt)
    for k, v in diff.items():
        pred[k] = v
    df = pd.DataFrame({"point": np.concatenate([pts, pts]),
                       "value": np.concatenate([pred, gt]),
                       "series": [model_names[mi]] * len(pts) + [truth_name] * len(pts)})
    sns.lineplot(data=df, x="point", y="value", hue="series",
                 palette={model_names[mi]: RED, truth_name: BLUE},
                 linewidth=0.5, alpha=0.95, ax=ax, legend=True, estimator=None, sort=False)
    ax.set_xlim(0, 300)
    ax.set_ylim(*ylim)
    ax.set_xticks(x_ticks)
    ax.set_yticks(yt)
    ax.tick_params(axis="both", labelsize=tick_fs, length=1.5, width=0.4, pad=1.2,
                   direction="in", colors="#333333", top=True, right=True)
    for s in ax.spines.values():
        s.set_color("#555555")
        s.set_linewidth(0.5)
    ax.set_xlabel(x_label, fontsize=tick_fs + 0.1, labelpad=1.0, color="#222222")
    ax.set_ylabel("")
    leg = ax.legend(loc="upper right", fontsize=3.5, frameon=True, fancybox=False,
                    borderpad=0.5, handlelength=3.2, handletextpad=1.0, labelspacing=0.5,
                    borderaxespad=0.25)
    leg.get_frame().set_edgecolor("#666666")
    leg.get_frame().set_linewidth(0.4)
    for ln in leg.get_lines():
        ln.set_linewidth(0.6)

# y labels spanning each pair of axes
for j, lab in enumerate(y_labels):
    t = ax_rows[2 * j][0]
    b = ax_rows[2 * j + 1][1]
    fig.text(6 / W, 1 - ((t + b) / 2) / H, lab, rotation=90, ha="center", va="center",
             fontsize=4.0, color="#222222")

for lab, y in zip(group_labels, group_label_y):
    fig.text(177 / W, 1 - y / H, lab, ha="center", va="center", fontsize=6.5,
             family=["Liberation Serif", "DejaVu Serif"], color="#111111")

fig.savefig("out.png", dpi=100, facecolor="white")
